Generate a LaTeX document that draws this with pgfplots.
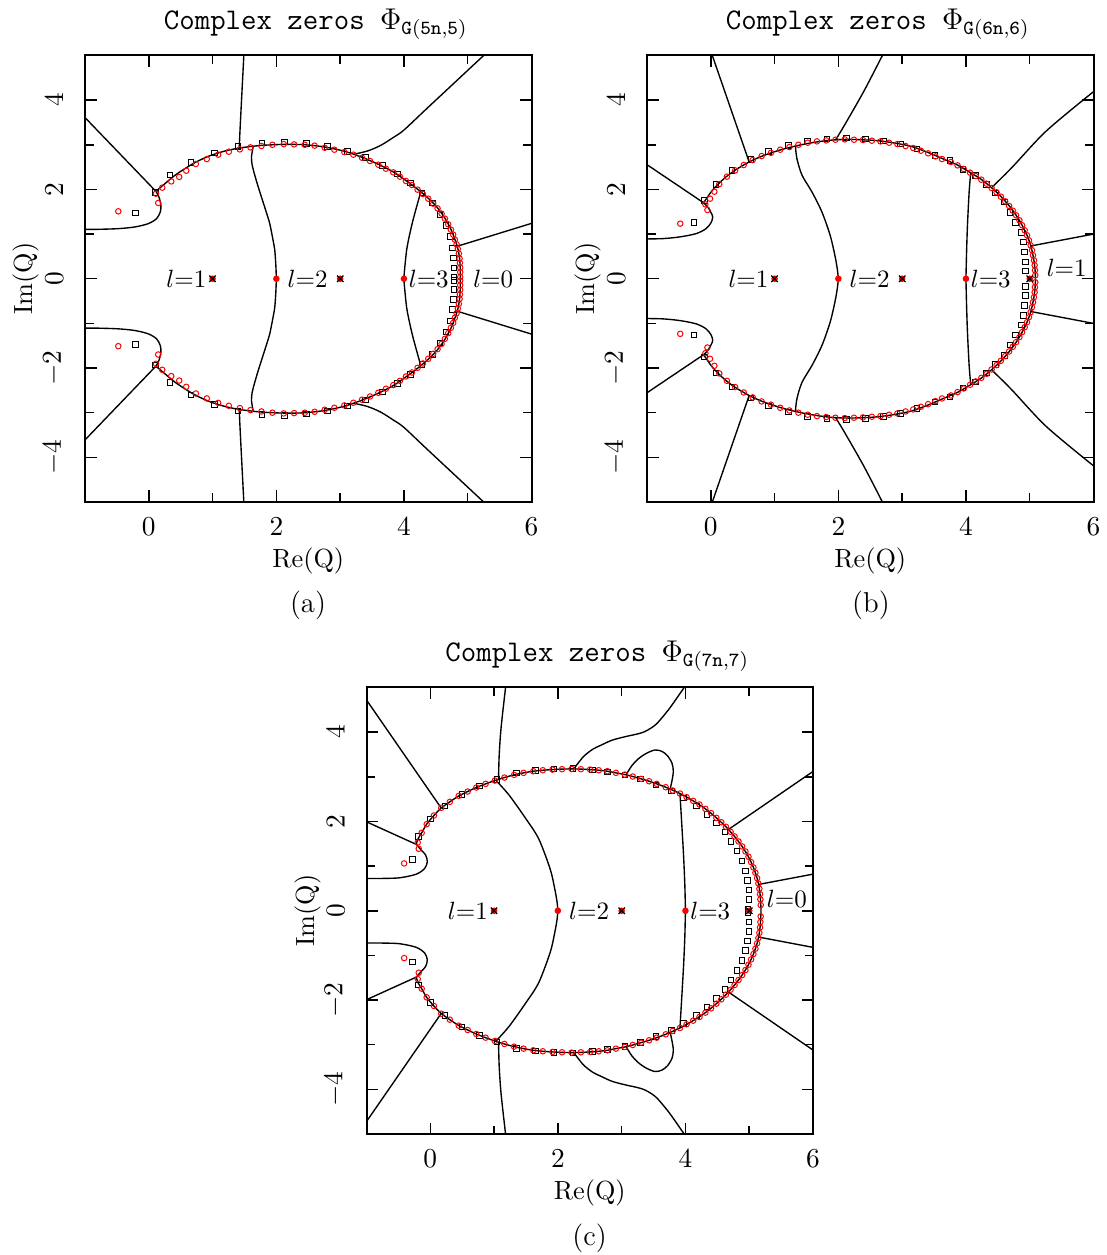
\documentclass[border=0pt]{standalone}
\usepackage{pgfplots}
\usepackage{pgfplotstable}
\pgfplotsset{compat=1.18}

% ---------- panel (a): G(5n,5), upper half (lower half is the mirror image) ----------
\pgfplotstableread{
x y
0.112 1.957
0.253 2.129
0.409 2.315
0.566 2.465
0.722 2.599
0.931 2.740
1.192 2.860
1.453 2.934
1.766 2.986
2.131 3.009
2.445 3.001
2.758 2.950
3.066 2.855
3.342 2.720
3.598 2.564
3.833 2.392
4.031 2.199
4.214 2.005
4.381 1.803
4.527 1.587
4.642 1.356
4.736 1.110
4.798 0.886
4.845 0.677
4.872 0.461
4.882 0.250
4.885 0.000
}\amain
\pgfplotstableread{
x y
0.112 1.957
0.159 1.830
0.190 1.644
0.180 1.495
0.122 1.346
-0.008 1.234
-0.217 1.160
-0.478 1.122
-0.790 1.107
-1.000 1.105
}\ahook
\pgfplotstableread{
x y
-1.000 3.610
0.112 1.957
}\atl
\pgfplotstableread{
x y
1.490 5.000
1.430 3.320
1.420 2.930
}\av
\pgfplotstableread{
x y
1.636 2.955
1.610 2.730
1.620 2.550
1.640 2.430
1.700 2.130
1.766 1.830
1.840 1.500
1.897 1.230
1.950 0.850
1.975 0.640
1.992 0.300
2.000 0.000
}\ainb
\pgfplotstableread{
x y
3.217 2.790
3.426 2.860
3.635 2.986
3.843 3.173
4.000 3.330
4.380 3.840
5.250 5.000
}\aur
\pgfplotstableread{
x y
4.261 1.930
4.220 1.720
4.183 1.530
4.140 1.300
4.104 1.085
4.070 0.860
4.042 0.640
4.020 0.350
4.005 0.120
4.000 0.000
}\ainc
\pgfplotstableread{
x y
4.835 0.727
6.000 1.240
}\ar
\pgfplotstableread{
x y
-0.478 1.510
0.112 1.905
0.148 1.697
0.211 2.040
0.352 2.180
0.477 2.280
0.587 2.420
0.738 2.570
0.910 2.680
1.088 2.780
1.255 2.845
1.427 2.897
1.594 2.942
1.766 2.972
1.938 3.000
2.116 3.016
2.278 3.009
2.445 3.000
2.600 2.980
2.758 2.934
2.909 2.890
3.066 2.837
3.207 2.778
3.342 2.710
3.468 2.636
3.598 2.554
3.718 2.464
3.833 2.382
3.937 2.286
4.031 2.189
4.125 2.099
4.214 1.995
4.297 1.898
4.381 1.793
4.459 1.681
4.527 1.577
4.590 1.458
4.642 1.346
4.694 1.219
4.736 1.100
4.772 0.988
4.798 0.876
4.825 0.772
4.845 0.667
4.861 0.563
4.872 0.451
4.877 0.354
4.882 0.250
4.882 0.145
4.882 0.040
}\ared
\pgfplotstableread{
x y
-0.207 1.473
0.106 1.935
0.336 2.323
0.660 2.600
1.030 2.815
1.400 2.964
1.771 3.039
2.130 3.061
2.476 3.024
2.800 2.964
3.113 2.852
3.395 2.720
3.666 2.540
3.896 2.345
4.104 2.144
4.287 1.920
4.449 1.696
4.569 1.435
4.663 1.190
4.730 0.951
4.762 0.690
4.778 0.466
4.783 0.242
4.788 0.040
}\ablk

% ---------- panel (b): G(6n,6) ----------
\pgfplotstableread{
x y
-0.116 1.704
-0.074 1.780
0.004 1.943
0.107 2.107
0.237 2.278
0.393 2.442
0.600 2.614
0.808 2.748
1.067 2.875
1.327 2.972
1.586 3.046
1.845 3.098
2.105 3.120
2.364 3.113
2.624 3.091
2.883 3.039
3.142 2.964
3.402 2.830
3.635 2.688
3.868 2.545
4.065 2.381
4.241 2.225
4.402 2.038
4.548 1.843
4.677 1.634
4.786 1.424
4.880 1.200
4.957 0.975
5.014 0.750
5.051 0.526
5.077 0.302
5.088 0.100
5.090 0.000
}\bmain
\pgfplotstableread{
x y
-0.116 1.704
-0.048 1.607
0.004 1.480
0.030 1.383
0.004 1.256
-0.074 1.122
-0.230 1.010
-0.489 0.936
-0.749 0.899
-1.000 0.891
}\bhook
\pgfplotstableread{
x y
-1.000 2.554
-0.116 1.704
}\btl
\pgfplotstableread{
x y
0.600 2.620
0.024 5.000
}\bva
\pgfplotstableread{
x y
1.960 3.118
2.094 3.434
2.400 4.200
2.690 5.000
}\bvb
\pgfplotstableread{
x y
1.327 2.972
1.350 2.690
1.430 2.320
1.586 1.943
1.742 1.495
1.871 0.973
1.949 0.500
1.985 0.200
2.000 0.000
}\binb
\pgfplotstableread{
x y
4.075 2.370
4.050 1.940
4.024 1.200
4.010 0.600
4.000 0.000
}\binc
\pgfplotstableread{
x y
4.413 2.054
4.720 2.490
5.260 3.310
6.000 4.190
}\bur
\pgfplotstableread{
x y
5.020 0.735
6.000 1.000
}\br
\pgfplotstableread{
x y
-0.479 1.234
-0.085 1.667
-0.053 1.540
-0.012 1.793
0.056 1.950
0.133 2.120
0.253 2.286
0.382 2.427
0.517 2.547
0.657 2.658
0.797 2.748
0.943 2.820
1.088 2.890
1.233 2.950
1.373 3.000
1.519 3.046
1.664 3.076
1.809 3.098
1.954 3.113
2.100 3.121
2.245 3.113
2.385 3.106
2.525 3.091
2.660 3.076
2.795 3.046
2.925 3.016
3.054 2.972
3.174 2.927
3.293 2.867
3.407 2.808
3.521 2.740
3.625 2.681
3.764 2.614
3.868 2.539
3.966 2.457
4.065 2.375
4.153 2.300
4.241 2.219
4.324 2.129
4.402 2.032
4.480 1.935
4.548 1.838
4.615 1.734
4.677 1.629
4.734 1.525
4.786 1.420
4.838 1.309
4.880 1.197
4.921 1.085
4.957 0.973
4.988 0.861
5.014 0.749
5.035 0.638
5.051 0.526
5.066 0.414
5.077 0.302
5.082 0.190
5.087 0.078
}\bred
\pgfplotstableread{
x y
-0.266 1.264
-0.100 1.750
0.081 2.114
0.336 2.420
0.631 2.673
0.906 2.852
1.218 2.987
1.519 3.084
1.825 3.128
2.126 3.150
2.426 3.128
2.706 3.084
2.976 3.016
3.236 2.905
3.515 2.755
3.749 2.644
3.956 2.442
4.148 2.315
4.319 2.107
4.465 1.920
4.605 1.719
4.688 1.480
4.776 1.264
4.869 1.033
4.906 0.824
4.921 0.600
4.931 0.377
4.931 0.175
}\bblk

% ---------- panel (c): G(7n,7) ----------
\pgfplotstableread{
x y
-0.218 1.485
-0.197 1.600
-0.135 1.745
-0.057 1.939
0.057 2.133
0.171 2.300
0.306 2.439
0.446 2.570
0.586 2.670
0.721 2.760
0.867 2.842
1.012 2.916
1.162 2.983
1.313 3.043
1.463 3.088
1.614 3.125
1.764 3.147
1.915 3.162
2.065 3.172
2.215 3.177
2.361 3.172
2.506 3.162
2.641 3.147
2.776 3.125
2.910 3.088
3.050 3.050
3.175 3.006
3.305 2.954
3.430 2.901
3.549 2.842
3.691 2.767
3.914 2.625
4.121 2.461
4.313 2.282
4.485 2.081
4.635 1.880
4.770 1.664
4.889 1.440
4.988 1.209
5.066 0.970
5.123 0.731
5.159 0.493
5.177 0.254
5.185 0.000
}\cmain
\pgfplotstableread{
x y
-0.218 1.485
-0.155 1.380
-0.073 1.246
-0.047 1.097
-0.088 0.948
-0.218 0.820
-0.477 0.739
-0.737 0.724
-1.000 0.722
}\chook
\pgfplotstableread{
x y
-1.000 1.992
-0.218 1.485
}\ctla
\pgfplotstableread{
x y
0.171 2.300
-1.000 4.720
}\ctlb
\pgfplotstableread{
x y
1.070 2.940
1.080 3.480
1.110 4.100
1.180 5.000
}\cv
\pgfplotstableread{
x y
1.027 2.923
1.235 2.590
1.494 2.070
1.700 1.610
1.880 0.930
1.950 0.500
1.987 0.200
2.000 0.000
}\cinb
\pgfplotstableread{
x y
2.250 3.178
2.400 3.450
2.550 3.620
2.680 3.710
2.850 3.820
3.060 3.900
3.250 3.960
3.360 4.010
3.470 4.100
3.550 4.190
3.660 4.370
3.770 4.570
3.980 5.000
}\cwave
\pgfplotstableread{
x y
3.070 3.045
3.160 3.250
3.260 3.400
3.380 3.520
3.520 3.600
3.630 3.570
3.720 3.470
3.790 3.300
3.810 3.120
3.790 2.920
3.760 2.720
}\cloop
\pgfplotstableread{
x y
3.914 2.625
3.940 2.000
3.970 1.250
3.990 0.600
4.000 0.000
}\cinc
\pgfplotstableread{
x y
4.682 1.828
6.000 3.120
}\cur
\pgfplotstableread{
x y
5.150 0.590
6.000 0.820
}\cr
\pgfplotstableread{
x y
-0.410 1.060
-0.181 1.388
-0.197 1.529
-0.135 1.745
-0.057 1.939
0.057 2.133
0.171 2.305
0.306 2.439
0.446 2.573
0.586 2.670
0.721 2.760
0.867 2.842
1.012 2.916
1.162 2.983
1.313 3.043
1.463 3.088
1.614 3.125
1.764 3.147
1.915 3.162
2.065 3.170
2.215 3.177
2.361 3.170
2.506 3.162
2.641 3.147
2.776 3.125
2.910 3.088
3.050 3.050
3.175 3.006
3.305 2.954
3.430 2.901
3.549 2.842
3.691 2.767
3.800 2.692
3.914 2.625
4.018 2.543
4.121 2.461
4.220 2.379
4.313 2.282
4.402 2.185
4.485 2.081
4.562 1.984
4.635 1.880
4.708 1.768
4.770 1.664
4.832 1.552
4.889 1.440
4.941 1.328
4.988 1.209
5.029 1.090
5.066 0.970
5.097 0.851
5.123 0.731
5.143 0.612
5.159 0.493
5.169 0.373
5.175 0.254
5.180 0.127
}\cred
\pgfplotstableread{
x y
-0.280 1.149
-0.181 1.663
0.000 2.050
0.228 2.350
0.498 2.603
0.773 2.797
1.043 2.939
1.354 3.080
1.650 3.140
1.940 3.170
2.241 3.185
2.542 3.155
2.781 3.110
3.050 3.036
3.294 2.946
3.538 2.812
3.784 2.685
3.966 2.528
4.173 2.342
4.339 2.156
4.485 1.970
4.620 1.768
4.718 1.552
4.811 1.335
4.889 1.112
4.941 0.895
4.972 0.679
4.993 0.463
4.998 0.247
4.980 0.040
}\cblk

\pgfplotsset{
  panel/.style={
    scale only axis, width=178.6pt, height=178.6pt,
    xmin=-1, xmax=6, ymin=-5, ymax=5,
    xtick={0,2,4,6}, ytick={-4,-2,0,2,4},
    minor x tick num=1, minor y tick num=1,
    tick align=inside, tick pos=both,
    xticklabel pos=lower, yticklabel pos=left,
    major tick length=4.6pt, minor tick length=3.4pt,
    tick style={black, line width=0.6pt},
    axis line style={line width=0.8pt},
    tick label style={font=\fontsize{10.5}{12}\selectfont},
    label style={font=\fontsize{10.5}{12}\selectfont},
    xticklabel shift=2.8pt, yticklabel shift=5.2pt,
    yticklabel style={rotate=90, anchor=south},
    xlabel={Re(Q)}, ylabel={Im(Q)},
    xlabel style={at={(axis description cs:0.5,-0.132)}, anchor=center},
    ylabel style={at={(axis description cs:-0.132,0.5)}, anchor=center},
    title style={at={(axis description cs:0.5,1)}, anchor=base, yshift=4.3pt,
      xshift=3pt, font=\fontsize{12}{14}\selectfont\ttfamily},
  },
  curve/.style={black, line width=0.55pt, no marks, smooth},
  rz/.style={only marks, red, mark=o, mark size=1.1pt, mark options={line width=0.4pt}},
  bz/.style={only marks, black, mark=square, mark size=1.1pt, mark options={line width=0.4pt}},
  rdot/.style={only marks, red, mark=*, mark size=1.1pt},
  xmk/.style={only marks, black, mark=x, mark size=1.8pt, mark options={line width=0.5pt}},
}
% upper half as read, lower half as its complex conjugate
\newcommand{\both}[2]{%
  \addplot[#1] table {#2};
  \addplot[#1] table[y expr=-\thisrow{y}] {#2};}

\begin{document}
\begin{tikzpicture}
\path[use as bounding box] (0,0) rectangle (442.4pt,-502pt);

% (a)
\begin{axis}[panel, at={(34pt,-200.8pt)}, anchor=south west,
  title={Complex zeros $\Phi_{\mathtt{G(5n,5)}}$}]
  \both{curve}{\amain}
  \both{curve}{\ahook}
  \both{curve}{\atl}
  \both{curve}{\av}
  \both{curve}{\ainb}
  \both{curve}{\aur}
  \both{curve}{\ainc}
  \both{curve}{\ar}
  \both{bz}{\ablk}
  \both{rz}{\ared}
  \addplot[rdot] coordinates {(1,0) (2,0) (3,0) (4,0)};
  \addplot[xmk] coordinates {(1,0) (3,0)};
  \node[anchor=east, inner sep=1pt] at (axis cs:0.95,0) {$l{=}1$};
  \node[anchor=west, inner sep=1pt] at (axis cs:2.13,0) {$l{=}2$};
  \node[anchor=west, inner sep=1pt] at (axis cs:4.03,0) {$l{=}3$};
  \node[anchor=west, inner sep=1pt] at (axis cs:5.04,0) {$l{=}0$};
\end{axis}

% (b)
\begin{axis}[panel, at={(258.8pt,-200.8pt)}, anchor=south west,
  title={Complex zeros $\Phi_{\mathtt{G(6n,6)}}$}]
  \both{curve}{\bmain}
  \both{curve}{\bhook}
  \both{curve}{\btl}
  \both{curve}{\bva}
  \both{curve}{\bvb}
  \both{curve}{\binb}
  \both{curve}{\binc}
  \both{curve}{\bur}
  \both{curve}{\br}
  \both{bz}{\bblk}
  \both{rz}{\bred}
  \addplot[rdot] coordinates {(1,0) (2,0) (3,0) (4,0) (5,0)};
  \addplot[xmk] coordinates {(1,0) (3,0) (5,0)};
  \node[anchor=east, inner sep=1pt] at (axis cs:0.95,0) {$l{=}1$};
  \node[anchor=west, inner sep=1pt] at (axis cs:2.13,0) {$l{=}2$};
  \node[anchor=west, inner sep=1pt] at (axis cs:4.03,0) {$l{=}3$};
  \node[anchor=west, inner sep=1pt] at (axis cs:5.22,0.25) {$l{=}1$};
\end{axis}

% (c)
\begin{axis}[panel, at={(146.6pt,-453.6pt)}, anchor=south west,
  title={Complex zeros $\Phi_{\mathtt{G(7n,7)}}$}]
  \both{curve}{\cmain}
  \both{curve}{\chook}
  \both{curve}{\ctla}
  \both{curve}{\ctlb}
  \both{curve}{\cv}
  \both{curve}{\cinb}
  \both{curve}{\cwave}
  \both{curve}{\cloop}
  \both{curve}{\cinc}
  \both{curve}{\cur}
  \both{curve}{\cr}
  \both{bz}{\cblk}
  \both{rz}{\cred}
  \addplot[rdot] coordinates {(1,0) (2,0) (3,0) (4,0) (5,0)};
  \addplot[xmk] coordinates {(1,0) (3,0) (5,0)};
  \node[anchor=east, inner sep=1pt] at (axis cs:0.95,0) {$l{=}1$};
  \node[anchor=west, inner sep=1pt] at (axis cs:2.13,0) {$l{=}2$};
  \node[anchor=west, inner sep=1pt] at (axis cs:4.03,0) {$l{=}3$};
  \node[anchor=west, inner sep=1pt] at (axis cs:5.23,0.27) {$l{=}0$};
\end{axis}

\node[font=\fontsize{11.5}{13}\selectfont] at (123.2pt,-242pt) {(a)};
\node[font=\fontsize{11.5}{13}\selectfont] at (348.4pt,-242pt) {(b)};
\node[font=\fontsize{11.5}{13}\selectfont] at (235.8pt,-495.2pt) {(c)};
\end{tikzpicture}
\end{document}
